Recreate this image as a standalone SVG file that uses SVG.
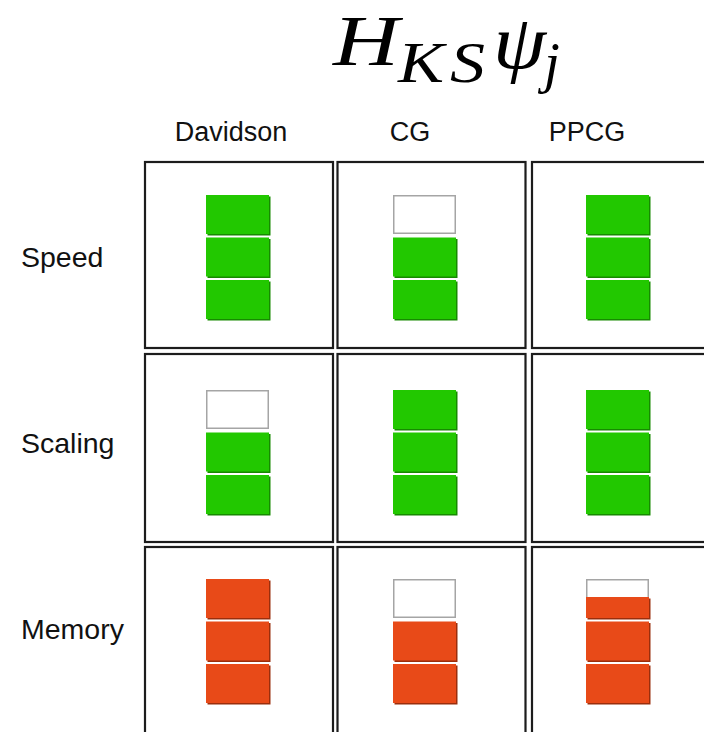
<svg xmlns="http://www.w3.org/2000/svg" width="704" height="732" viewBox="0 0 704 732">
  <style>
    .hdr { font-family: "Liberation Sans", Arial, sans-serif; font-size: 27px; fill: #111; text-anchor: middle; }
    .row { font-family: "Liberation Sans", Arial, sans-serif; font-size: 28.5px; fill: #111; }
    .math { font-family: "Liberation Serif", "Times New Roman", serif; font-style: italic; fill: #000; }
    .cell { fill: #fff; stroke: #1c1c1c; stroke-width: 2.2; }
    .g { fill: #22c800; }
    .gs { fill: #168a00; }
    .o { fill: #e84a18; }
    .os { fill: #9a2e0c; }
    .e { fill: #fff; stroke: #a5a5a5; stroke-width: 1.5; }
  </style>
  <defs>
    <!-- one filled block: darker sliver on right/bottom, then the face -->
    <g id="gbar">
      <rect class="gs" x="1.5" y="1.5" width="63" height="39"/>
      <rect class="g" x="0" y="0" width="63" height="39"/>
    </g>
    <g id="obar">
      <rect class="os" x="1.5" y="1.5" width="63" height="39"/>
      <rect class="o" x="0" y="0" width="63" height="39"/>
    </g>
    <rect id="ebar" class="e" x="0.75" y="0.75" width="61.5" height="37.5"/>
  </defs>

  <rect width="704" height="732" fill="#fff"/>

  <!-- title: H_KS psi_j -->
  <g id="title">
    <text class="math" x="333" y="65" font-size="72" textLength="66" lengthAdjust="spacingAndGlyphs">H</text>
    <text class="math" x="398" y="82" font-size="57" textLength="46" lengthAdjust="spacingAndGlyphs">K</text>
    <text class="math" x="450" y="82" font-size="57" textLength="35" lengthAdjust="spacingAndGlyphs">S</text>
    <text class="math" x="493" y="68" font-size="76" textLength="53" lengthAdjust="spacingAndGlyphs">ψ</text>
    <text class="math" x="544" y="82" font-size="57">j</text>
  </g>

  <!-- column headers -->
  <g id="headers">
    <text class="hdr" x="231" y="141">Davidson</text>
    <text class="hdr" x="410" y="141">CG</text>
    <text class="hdr" x="587" y="141">PPCG</text>
  </g>

  <!-- row labels -->
  <g id="rows">
    <text class="row" x="21" y="267">Speed</text>
    <text class="row" x="21" y="453">Scaling</text>
    <text class="row" x="21" y="639">Memory</text>
  </g>

  <!-- Speed row -->
  <g id="speed-davidson">
    <rect class="cell" x="145" y="162" width="188" height="186"/>
    <use href="#gbar" x="206" y="195"/>
    <use href="#gbar" x="206" y="237.5"/>
    <use href="#gbar" x="206" y="280"/>
  </g>
  <g id="speed-cg">
    <rect class="cell" x="337.5" y="162" width="188" height="186"/>
    <use href="#ebar" x="393" y="195"/>
    <use href="#gbar" x="393" y="237.5"/>
    <use href="#gbar" x="393" y="280"/>
  </g>
  <g id="speed-ppcg">
    <rect class="cell" x="532" y="162" width="190" height="186"/>
    <use href="#gbar" x="586" y="195"/>
    <use href="#gbar" x="586" y="237.5"/>
    <use href="#gbar" x="586" y="280"/>
  </g>

  <!-- Scaling row -->
  <g id="scaling-davidson">
    <rect class="cell" x="145" y="354" width="188" height="188"/>
    <use href="#ebar" x="206" y="390"/>
    <use href="#gbar" x="206" y="432.5"/>
    <use href="#gbar" x="206" y="475"/>
  </g>
  <g id="scaling-cg">
    <rect class="cell" x="337.5" y="354" width="188" height="188"/>
    <use href="#gbar" x="393" y="390"/>
    <use href="#gbar" x="393" y="432.5"/>
    <use href="#gbar" x="393" y="475"/>
  </g>
  <g id="scaling-ppcg">
    <rect class="cell" x="532" y="354" width="190" height="188"/>
    <use href="#gbar" x="586" y="390"/>
    <use href="#gbar" x="586" y="432.5"/>
    <use href="#gbar" x="586" y="475"/>
  </g>

  <!-- Memory row (runs past the bottom edge) -->
  <g id="memory-davidson">
    <rect class="cell" x="145" y="547" width="188" height="200"/>
    <use href="#obar" x="206" y="579"/>
    <use href="#obar" x="206" y="621.5"/>
    <use href="#obar" x="206" y="664"/>
  </g>
  <g id="memory-cg">
    <rect class="cell" x="337.5" y="547" width="188" height="200"/>
    <use href="#ebar" x="393" y="579"/>
    <use href="#obar" x="393" y="621.5"/>
    <use href="#obar" x="393" y="664"/>
  </g>
  <g id="memory-ppcg">
    <rect class="cell" x="532" y="547" width="190" height="200"/>
    <!-- partly filled top block -->
    <rect class="e" x="586.75" y="579.75" width="61.5" height="20"/>
    <rect class="os" x="587.5" y="598.5" width="63" height="21"/>
    <rect class="o" x="586" y="597" width="63" height="21"/>
    <use href="#obar" x="586" y="621.5"/>
    <use href="#obar" x="586" y="664"/>
  </g>
</svg>
